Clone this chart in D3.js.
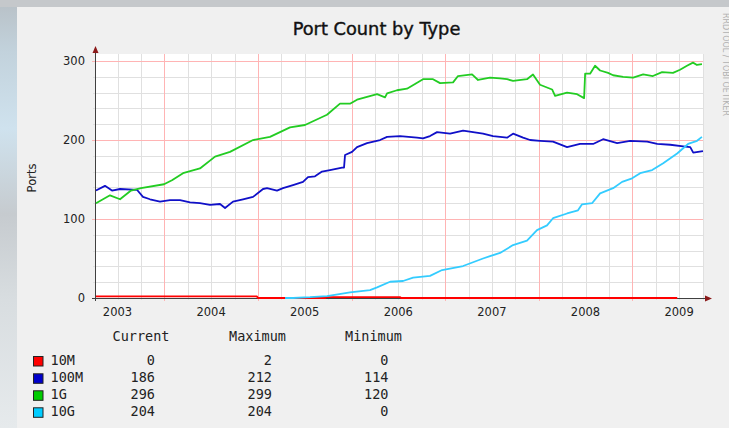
<!DOCTYPE html>
<html><head><meta charset="utf-8">
<script src="https://cdn.jsdelivr.net/npm/d3@7"></script>
<style>html,body{margin:0;padding:0;background:#f0f0f0;}svg{display:block}</style>
</head><body>
<svg id="c" width="729" height="428"></svg>
<script>
// ---------- data ----------
const chartTitle = "Port Count by Type";
const yAxisLabel = "Ports";
const watermark = "RRDTOOL / TOBI OETIKER";
const seriesNames = ["10M", "100M", "1G", "10G"];
const yearLabels = [2003, 2004, 2005, 2006, 2007, 2008, 2009];
const yTickValues = [0, 100, 200, 300];
const statHeaders = ["Current", "Maximum", "Minimum"];
const statCurrent = [0, 186, 296, 204];
const statMaximum = [2, 212, 299, 204];
const statMinimum = [0, 114, 120, 0];

// [decimal year, ports]
const series10M = [[2003.27,2],[2004.99,2],[2005.0,0],[2005.72,0],[2005.73,1],[2006.52,1],[2006.53,0],[2009.48,0]];
const series100M = [[2003.270,136],[2003.366,142],[2003.441,136],[2003.527,138],[2003.708,137],[2003.772,128],[2003.847,125],[2003.954,122],[2004.061,124],[2004.168,124],[2004.275,121],[2004.381,120],[2004.488,118],[2004.595,119],[2004.649,114],[2004.734,122],[2004.841,125],[2004.948,128],[2005.055,138],[2005.098,139],[2005.204,136],[2005.268,139],[2005.375,143],[2005.482,147],[2005.535,153],[2005.610,154],[2005.685,160],[2005.770,162],[2005.899,165],[2005.920,165],[2005.931,181],[2006.006,185],[2006.059,191],[2006.166,196],[2006.305,200],[2006.380,204],[2006.519,205],[2006.700,203],[2006.764,202],[2006.839,205],[2006.914,210],[2007.053,208],[2007.192,212],[2007.405,208],[2007.512,205],[2007.662,203],[2007.726,208],[2007.833,203],[2007.908,200],[2008.014,199],[2008.153,198],[2008.303,191],[2008.442,195],[2008.581,195],[2008.688,201],[2008.838,196],[2008.977,199],[2009.159,198],[2009.266,195],[2009.405,194],[2009.544,192],[2009.619,191],[2009.651,184],[2009.755,186]];
const series1G = [[2003.270,120],[2003.420,130],[2003.527,125],[2003.644,136],[2003.751,139],[2003.997,144],[2004.082,149],[2004.200,158],[2004.381,164],[2004.542,179],[2004.702,185],[2004.948,200],[2005.129,204],[2005.343,216],[2005.503,219],[2005.738,232],[2005.877,246],[2005.984,246],[2006.059,251],[2006.273,258],[2006.358,254],[2006.380,259],[2006.486,263],[2006.593,265],[2006.764,277],[2006.871,277],[2006.946,272],[2007.085,273],[2007.138,281],[2007.288,283],[2007.352,276],[2007.480,279],[2007.587,278],[2007.662,277],[2007.726,275],[2007.875,277],[2007.939,283],[2008.014,270],[2008.143,264],[2008.175,256],[2008.303,260],[2008.410,258],[2008.485,253],[2008.496,284],[2008.549,284],[2008.602,294],[2008.656,288],[2008.741,285],[2008.795,282],[2008.902,280],[2009.009,279],[2009.116,283],[2009.220,281],[2009.318,286],[2009.435,285],[2009.510,289],[2009.584,294],[2009.648,298],[2009.691,295],[2009.744,296]];
const series10G = [[2005.29,0],[2005.375,0],[2005.557,1],[2005.738,2.5],[2005.984,7],[2006.198,10],[2006.273,13.5],[2006.412,20.6],[2006.551,21.5],[2006.658,25.7],[2006.839,28],[2006.968,35.4],[2007.192,40.5],[2007.405,50],[2007.480,53],[2007.587,57],[2007.726,67],[2007.875,72.5],[2007.982,86],[2008.089,92],[2008.153,101],[2008.303,107],[2008.420,111],[2008.463,118.6],[2008.570,120],[2008.656,132.5],[2008.795,139],[2008.891,147],[2008.998,151.5],[2009.084,158],[2009.212,162],[2009.330,170.5],[2009.479,183],[2009.596,195],[2009.692,199],[2009.744,204]];

// ---------- styles ----------
const lineColors = ["#ff0000", "#1010c8", "#22cc22", "#33ccff"];
const boxColors = ["#ff0000", "#0000cc", "#00cc00", "#00ccff"];

const svg = d3.select("#c");
const W = 729, H = 428;

// page background (outside panel)
const defs = svg.append("defs");
const g1 = defs.append("linearGradient").attr("id","lbg").attr("x1",0).attr("x2",0).attr("y1",0).attr("y2",1);
[[0,"#b8c0c6"],[0.12,"#c2d2dc"],[0.3,"#cfe2ee"],[0.5,"#c6cbcf"],[0.7,"#d8dde0"],[1,"#e6eaec"]]
  .forEach(s=>g1.append("stop").attr("offset",s[0]).attr("stop-color",s[1]));
svg.append("rect").attr("x",0).attr("y",0).attr("width",W).attr("height",H).attr("fill","url(#lbg)");
svg.append("rect").attr("x",0).attr("y",0).attr("width",W).attr("height",7).attr("fill","#c5c8cb");
svg.append("rect").attr("x",17).attr("y",7).attr("width",W-17).attr("height",H-7).attr("fill","#f0f0f0");

// scales
const x = d3.scaleLinear().domain([2003.2596, 2009.7553]).range([95, 703]);
const y = d3.scaleLinear().domain([0, 308.9]).range([298, 54]);

// plot area
svg.append("rect").attr("x",x.range()[0]).attr("y",y.range()[1])
  .attr("width",x.range()[1]-x.range()[0]).attr("height",y.range()[0]-y.range()[1]).attr("fill","#ffffff");

const grid = svg.append("g").attr("shape-rendering","crispEdges");
// minor grid
const minorX = d3.range(2003.25, 2009.76, 0.25).filter(v => x(v) > 96 && Math.abs(v - Math.round(v)) > 0.01);
const minorY = d3.range(20, 309, 20).filter(v => v % 100 !== 0);
grid.selectAll(".mx").data(minorX).join("line")
  .attr("x1",d=>Math.round(x(d))+0.5).attr("x2",d=>Math.round(x(d))+0.5)
  .attr("y1",y.range()[1]).attr("y2",y(0)+2).attr("stroke","#e0e0e0");
grid.selectAll(".my").data(minorY).join("line")
  .attr("y1",d=>Math.round(y(d))+0.5).attr("y2",d=>Math.round(y(d))+0.5)
  .attr("x1",x.range()[0]-2).attr("x2",x.range()[1]).attr("stroke","#e0e0e0");
// major grid
const majorX = yearLabels.filter(v => x(v) > 96);
grid.selectAll(".Mx").data(majorX).join("line")
  .attr("x1",d=>Math.round(x(d))+0.5).attr("x2",d=>Math.round(x(d))+0.5)
  .attr("y1",y.range()[1]).attr("y2",y(0)+3).attr("stroke","#ffb4b4");
grid.selectAll(".My").data(yTickValues.filter(v=>v>0)).join("line")
  .attr("y1",d=>Math.round(y(d))+0.5).attr("y2",d=>Math.round(y(d))+0.5)
  .attr("x1",x.range()[0]-3).attr("x2",x.range()[1]).attr("stroke","#ffb4b4");

// axes lines
const axisCol = "#404040", arrowCol = "#8b1a1a";
svg.append("line").attr("x1",95.5).attr("x2",95.5).attr("y1",y(0)+3).attr("y2",50).attr("stroke",axisCol);
svg.append("line").attr("x1",92).attr("x2",707).attr("y1",y(0)+0.5).attr("y2",y(0)+0.5).attr("stroke",axisCol);
svg.append("path").attr("d","M95.5,46 L92.5,53 L98.5,53 Z").attr("fill",arrowCol);
svg.append("path").attr("d",`M712,${y(0)+0.5} L705,${y(0)-2.5} L705,${y(0)+3.5} Z`).attr("fill",arrowCol);

// series lines
const line = d3.line().x(d=>x(d[0])).y(d=>y(d[1]));
[series10M, series100M, series1G, series10G].forEach((s,i)=>{
  svg.append("path").attr("d",line(s)).attr("fill","none")
    .attr("stroke",lineColors[i]).attr("stroke-width",1.8).attr("stroke-linejoin","round");
});

// tick labels
const font = "'DejaVu Sans', sans-serif";
svg.append("g").selectAll("text").data(yTickValues).join("text")
  .attr("x",85).attr("y",d=>y(d)+4).attr("text-anchor","end")
  .attr("font-family",font).attr("font-size",11.5).attr("fill","#222").text(d=>d);
svg.append("g").selectAll("text").data(yearLabels).join("text")
  .attr("x",d=>x(d+0.5)).attr("y",316).attr("text-anchor","middle")
  .attr("font-family",font).attr("font-size",11.5).attr("fill","#222").text(d=>d);

// title
svg.append("text").attr("x",376.5).attr("y",35).attr("text-anchor","middle")
  .attr("font-family",font).attr("font-size",17.8).attr("fill","#111")
  .attr("stroke","#111").attr("stroke-width",0.4).text(chartTitle);
// y label
svg.append("text").attr("transform","translate(36,178) rotate(-90)").attr("text-anchor","middle")
  .attr("font-family",font).attr("font-size",11.5).attr("fill","#222").text(yAxisLabel);
// watermark
svg.append("text").attr("transform","translate(723,13) rotate(90)").attr("text-anchor","start")
  .attr("font-family",font).attr("font-size",8).attr("fill","#b0b0b0").text(watermark);

// legend
const mono = "'DejaVu Sans Mono', monospace";
const colRight = [155, 272, 388.5];
const headerX = [112.5, 229, 345];
svg.append("g").selectAll("text").data(statHeaders).join("text")
  .attr("x",(d,i)=>headerX[i]).attr("y",341).attr("font-family",mono).attr("font-size",13.5)
  .attr("fill","#222").text(d=>d);
const rowY = [365, 382.3, 399.3, 416.3];
const lg = svg.append("g");
seriesNames.forEach((n,i)=>{
  lg.append("rect").attr("x",33.5).attr("y",rowY[i]-8.5).attr("width",9.5).attr("height",9.5)
    .attr("fill",boxColors[i]).attr("stroke","#222").attr("stroke-width",1);
  lg.append("text").attr("x",50.5).attr("y",rowY[i]).attr("font-family",mono).attr("font-size",13.5)
    .attr("fill","#222").text(n);
  [statCurrent[i], statMaximum[i], statMinimum[i]].forEach((v,j)=>{
    lg.append("text").attr("x",colRight[j]).attr("y",rowY[i]).attr("text-anchor","end")
      .attr("font-family",mono).attr("font-size",13.5).attr("fill","#222").text(v);
  });
});
</script>
</body></html>
